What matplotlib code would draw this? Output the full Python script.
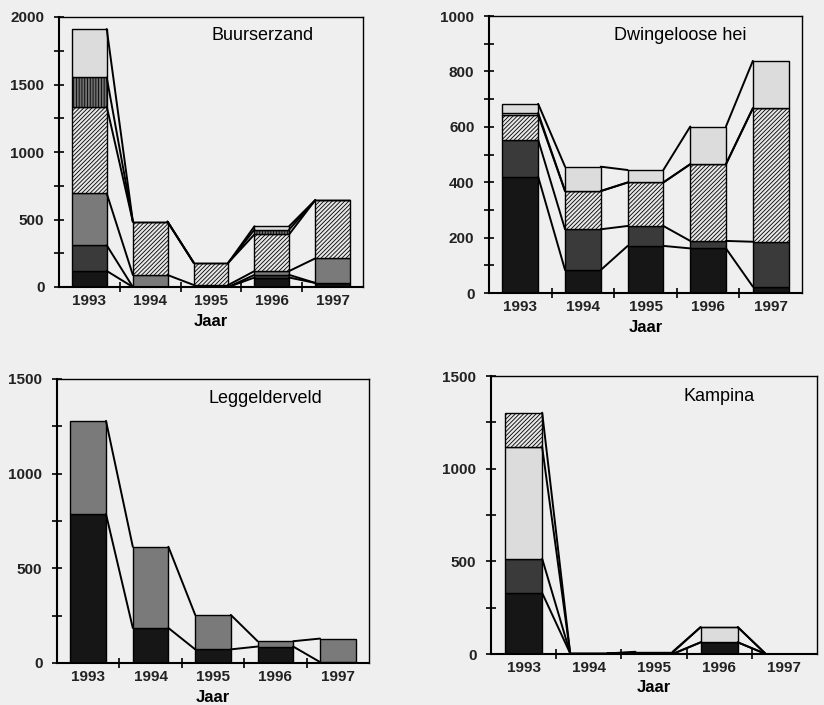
import matplotlib.pyplot as plt
import numpy as np

plt.rcParams['font.family'] = ['Liberation Sans', 'DejaVu Sans']
plt.rcParams['hatch.linewidth'] = 0.6

years = ['1993', '1994', '1995', '1996', '1997']

# Buurserzand
bz_black = [119, 0, 0, 70, 30]
bz_dark = [190, 0, 0, 20, 0]
bz_mid = [384, 89, 15, 28, 182]
bz_hatch = [644, 395, 165, 272, 432]
bz_vert = [215, 0, 0, 35, 0]
bz_light = [359, 0, 0, 25, 0]

# Dwingeloose hei
dh_black = [420, 83, 170, 161, 23]
dh_dark = [133, 147, 72, 27, 162]
dh_hatch = [90, 138, 157, 277, 482]
dh_white = [7, 0, 0, 0, 0]
dh_light = [33, 88, 45, 136, 171]

# Leggelderveld
lg_black = [787, 185, 72, 87, 5]
lg_mid = [492, 429, 182, 28, 124]

# Kampina
kp_black = [329, 3, 0, 63, 0]
kp_dark = [185, 0, 0, 0, 0]
kp_light = [602, 0, 8, 82, 0]
kp_hatch = [186, 0, 4, 0, 0]

# fill styles: (facecolor, hatch)
BLACK = ('#161616', None)
DARK = ('#3a3a3a', None)
MID = ('#7a7a7a', None)
HATCH = ('#e6e6e6', '////////')
VERT = ('#707070', '||||||')
WHITE = ('#f2f2f2', None)
LIGHT = ('#dcdcdc', None)

bg = '#efefef'
fig = plt.figure(figsize=(8.24, 7.05), dpi=100, facecolor=bg)


def px_axes(left, right, top, bottom):
    W, H = 824, 705
    return fig.add_axes([left / W, 1 - bottom / H, (right - left) / W, (bottom - top) / H])


def panel(ax, series, styles, title, tpos, ymax, ymajor):
    x = np.arange(len(years))
    w = 0.57
    bottom = np.zeros(len(years))
    bounds = []
    for vals, (fc, hatch) in zip(series, styles):
        vals = np.array(vals, dtype=float)
        ax.bar(x, vals, w, bottom=bottom, color=fc, hatch=hatch,
               edgecolor='black', linewidth=1.0, zorder=2)
        bottom = bottom + vals
        bounds.append(bottom.copy())
    # connecting lines between segment boundaries of neighbouring bars
    for b in bounds:
        for i in range(len(years) - 1):
            ax.plot([x[i] + w / 2, x[i + 1] - w / 2], [b[i], b[i + 1]],
                    color='black', linewidth=1.4, zorder=3, solid_capstyle='round')
    ax.set_facecolor(bg)
    ax.set_xlim(-0.5, len(years) - 0.5)
    ax.set_ylim(0, ymax)
    ax.set_xticks(x)
    ax.set_xticklabels(years)
    ax.set_xticks(x[:-1] + 0.5, minor=True)
    ax.set_yticks(np.arange(0, ymax + 1, ymajor))
    ax.set_yticks(np.arange(ymajor / 2, ymax, ymajor), minor=True)
    ax.tick_params(axis='x', which='major', length=0, pad=5, labelsize=11)
    ax.tick_params(axis='x', which='minor', direction='inout', length=7, width=1.2)
    ax.tick_params(axis='y', which='both', direction='inout', length=7, width=1.2,
                   labelsize=11, pad=7)
    for lab in ax.get_xticklabels() + ax.get_yticklabels():
        lab.set_fontweight('bold')
        lab.set_color('#222222')
    for s in ['left', 'bottom']:
        ax.spines[s].set_linewidth(1.5)
    for s in ['top', 'right']:
        ax.spines[s].set_linewidth(1.0)
    ax.set_xlabel('Jaar', fontsize=12, fontweight='bold', labelpad=4)
    ax.text(tpos[0], tpos[1], title, transform=ax.transAxes, ha='center',
            va='center', fontsize=13)


ax1 = px_axes(59, 363, 17, 287)
panel(ax1, [bz_black, bz_dark, bz_mid, bz_hatch, bz_vert, bz_light],
      [BLACK, DARK, MID, HATCH, VERT, LIGHT], 'Buurserzand', (0.67, 0.933), 2000, 500)

ax2 = px_axes(489, 802, 16, 293)
panel(ax2, [dh_black, dh_dark, dh_hatch, dh_white, dh_light],
      [BLACK, DARK, HATCH, WHITE, LIGHT], 'Dwingeloose hei', (0.61, 0.928), 1000, 200)

ax3 = px_axes(57, 369, 379, 663)
panel(ax3, [lg_black, lg_mid], [BLACK, MID], 'Leggelderveld', (0.667, 0.933), 1500, 500)

ax4 = px_axes(491, 817, 376, 654)
panel(ax4, [kp_black, kp_dark, kp_light, kp_hatch],
      [BLACK, DARK, LIGHT, HATCH], 'Kampina', (0.70, 0.925), 1500, 500)

plt.savefig('out.png', dpi=100, facecolor=bg)
